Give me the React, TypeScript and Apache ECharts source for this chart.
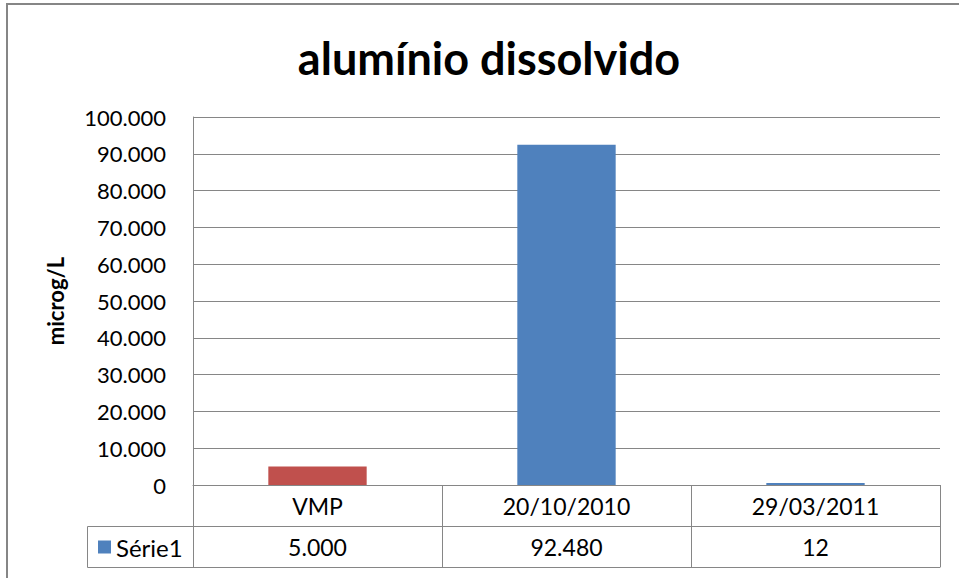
import React, { useEffect, useRef } from "react";
import * as echarts from "echarts";

const categories = ["VMP", "20/10/2010", "29/03/2011"];
const values = [5000, 92480, 12];
const seriesName = "Série1";
const yTicks = { min: 0, max: 100000, interval: 10000 };
const titleText = "alumínio dissolvido";
const yAxisName = "microg/L";

const RED = "#C0504D";
const BLUE = "#4F81BD";
const GRID = "#868686";

function fmt(v: number): string {
  const s = Math.round(v).toString();
  return s.replace(/\B(?=(\d{3})+(?!\d))/g, ".");
}

export default function App() {
  const ref = useRef<HTMLDivElement>(null);
  useEffect(() => {
    if (!ref.current) return;
    const chart = echarts.init(ref.current, undefined, { renderer: "svg" });
    const gridLeft = 193;
    const gridTop = 117;
    const gridRight = 19;
    const gridBottom = 93;
    chart.setOption({
      animation: false,
      textStyle: { fontFamily: "Lato", color: "#000" },
      title: {
        text: titleText,
        left: 484,
        textAlign: "center",
        top: 30,
        textStyle: { fontFamily: "Lato", fontWeight: "bold", fontSize: 45, color: "#000" },
      },
      legend: {
        show: true,
        left: 98,
        top: 535,
        padding: 0,
        itemWidth: 13,
        itemHeight: 13,
        icon: "rect",
        textStyle: { fontFamily: "Lato", fontSize: 24, color: "#000" },
        data: [seriesName],
        selectedMode: false,
      },
      graphic: [
        {
          type: "rect",
          shape: { x: 7, y: 4, width: 1000, height: 1000 },
          style: { fill: "none", stroke: GRID, lineWidth: 2 },
          silent: true,
        },
        {
          type: "rect",
          shape: { x: 87.5, y: 526.5, width: 106, height: 41 },
          style: { fill: "none", stroke: GRID, lineWidth: 1 },
          silent: true,
        },
      ],
      grid: { left: gridLeft, top: gridTop, right: gridRight, bottom: gridBottom, containLabel: false },
      xAxis: [
        {
          type: "category",
          data: categories,
          position: "bottom",
          axisLine: { show: true, lineStyle: { color: GRID, width: 1 } },
          axisTick: { show: true, length: 82, lineStyle: { color: GRID, width: 1 } },
          axisLabel: { fontSize: 23, color: "#000", margin: 9, fontFamily: "Lato" },
        },
        {
          type: "category",
          data: values.map(fmt),
          position: "bottom",
          offset: 41,
          axisLine: { show: true, lineStyle: { color: GRID, width: 1 } },
          axisTick: { show: false },
          axisLabel: { fontSize: 23, color: "#000", margin: 9, fontFamily: "Lato" },
        },
        {
          type: "category",
          data: categories,
          position: "bottom",
          offset: 82,
          axisLine: { show: true, lineStyle: { color: GRID, width: 1 } },
          axisTick: { show: false },
          axisLabel: { show: false },
        },
      ],
      yAxis: {
        type: "value",
        min: yTicks.min,
        max: yTicks.max,
        interval: yTicks.interval,
        name: yAxisName,
        nameLocation: "middle",
        nameGap: 127,
        nameTextStyle: { fontFamily: "Lato", fontWeight: "bold", fontSize: 22, color: "#000" },
        axisLine: { show: true, lineStyle: { color: GRID, width: 1 } },
        axisTick: { show: false },
        axisLabel: { fontSize: 22, color: "#000", margin: 27, formatter: (v: number) => fmt(v), fontFamily: "Lato" },
        splitLine: { show: true, lineStyle: { color: GRID, width: 1 } },
      },
      series: [
        {
          name: seriesName,
          type: "bar",
          xAxisIndex: 0,
          barWidth: "39.5%",
          barMinHeight: 2,
          itemStyle: { color: BLUE },
          data: values.map((v, i) => (i === 0 ? { value: v, itemStyle: { color: RED } } : v)),
        },
      ],
    });
    return () => chart.dispose();
  }, []);
  return <div ref={ref} style={{ position: "fixed", left: 0, top: 0, width: 959, height: 578, background: "#fff" }} />;
}
